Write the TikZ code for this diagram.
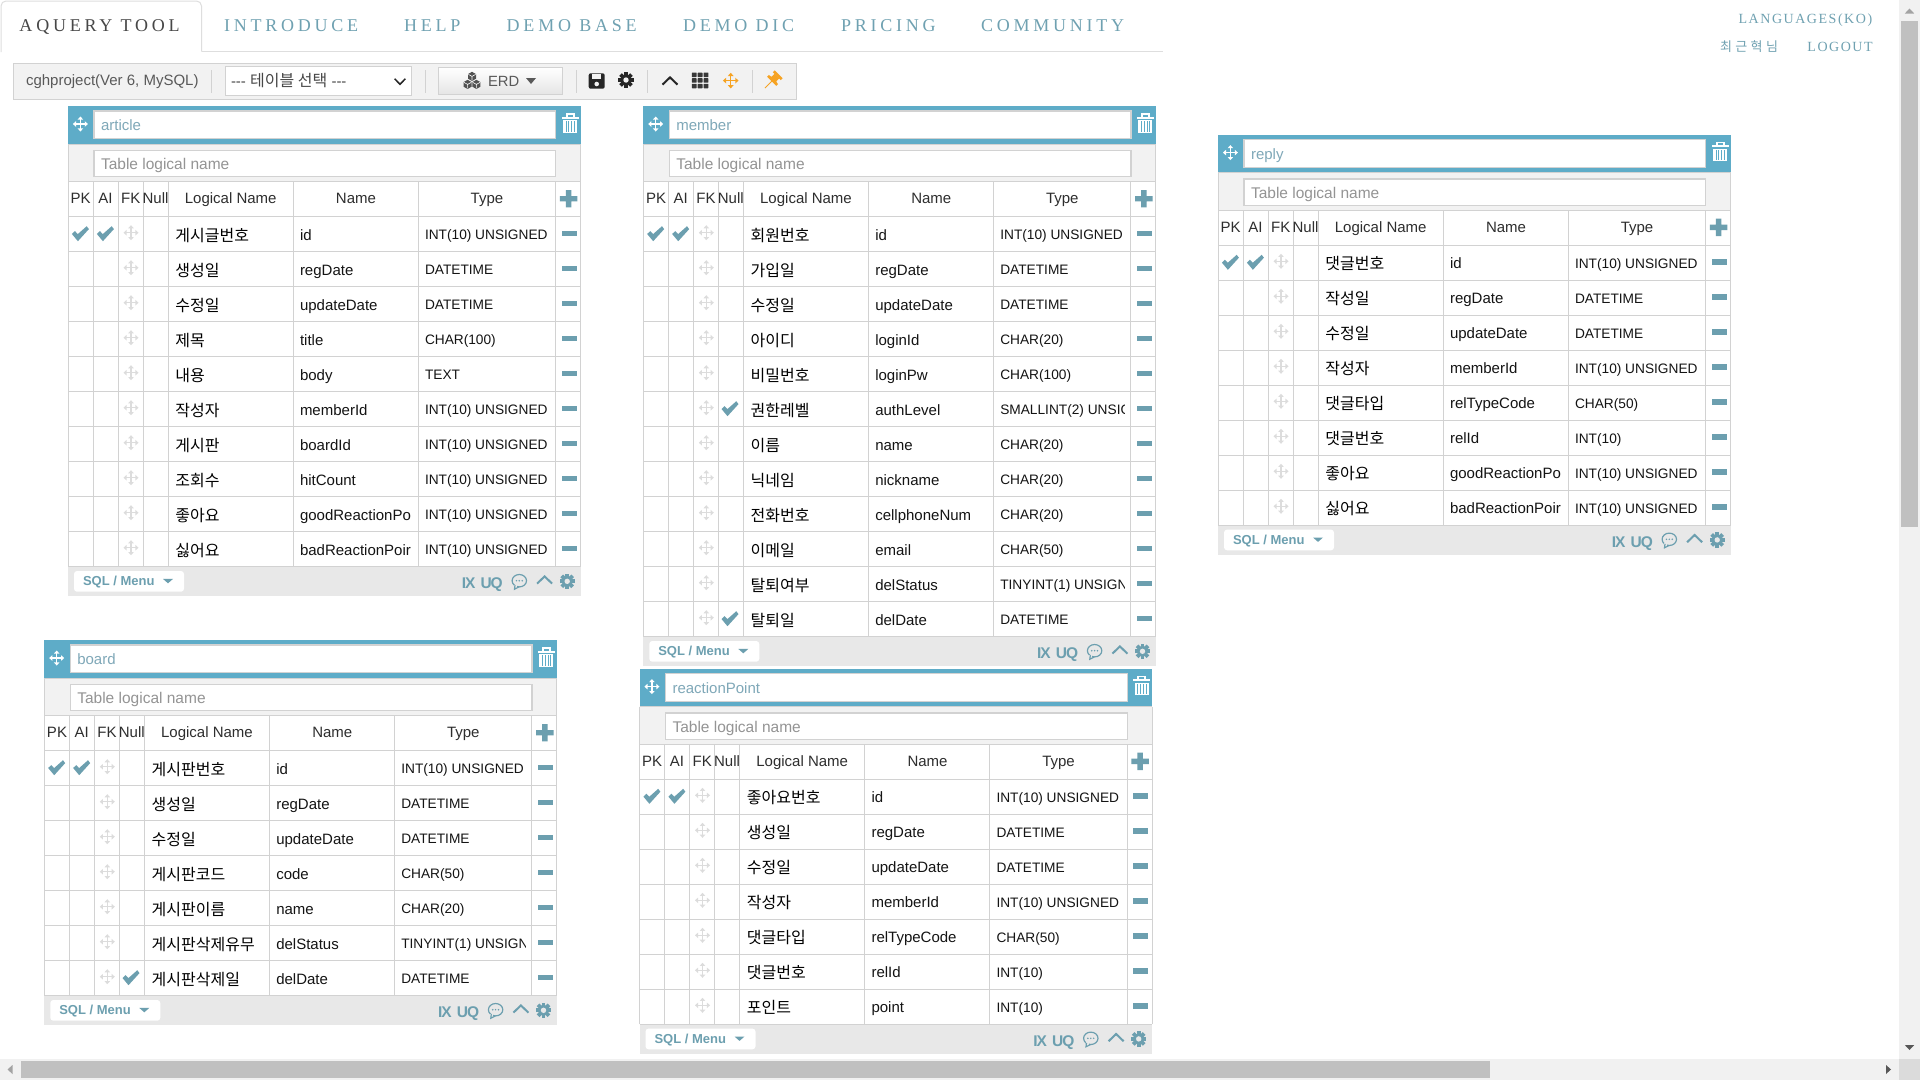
\documentclass[tikz,border=0pt]{standalone}
\usepackage{fontspec}
\setmainfont{Liberation Sans}
\newfontfamily\krf{Noto Sans CJK KR}
\newfontfamily\navf[LetterSpace=21]{Liberation Serif}
\newfontfamily\toprf[LetterSpace=11]{Liberation Serif}
\newfontfamily\krsp[LetterSpace=26]{Noto Sans CJK KR}
\newfontfamily\tagf[LetterSpace=-7]{Liberation Sans}
\definecolor{hdrblue}{HTML}{5EACC8}
\definecolor{teal}{HTML}{6C9FAF}
\definecolor{navc}{HTML}{6FA1B1}
\definecolor{titlec}{HTML}{7FA8B8}
\definecolor{gridc}{HTML}{D2D2D2}
\definecolor{moveg}{HTML}{DCDCDC}
\definecolor{footc}{HTML}{E8E8E8}
\definecolor{toolc}{HTML}{F2F2F2}
\definecolor{orng}{HTML}{F6A323}
\definecolor{thumbc}{HTML}{C0C0C0}
\definecolor{trackc}{HTML}{F1F1F1}
\newcommand\fs[1]{\fontsize{#1}{#1}\selectfont}
\newcounter{nn}
\newcount\rowno
\tikzset{
  txt/.style={inner sep=0pt,outer sep=0pt,anchor=base west},
  ctxt/.style={inner sep=0pt,outer sep=0pt,anchor=base},
  gridline/.style={draw=gridc,line width=1pt},
  inputbox/.style={fill=white,draw=gridc,line width=1.3pt},
  sepline/.style={draw=gridc,line width=1pt},
}
\newcommand\tx[3][]{\stepcounter{nn}\node[txt,#1] (n\thenn) at (#2) {#3};}
\newcommand\mv[3]{% centre, half-size, colour
  \begin{scope}[shift={(#1)},scale=#2/7.5]
    \draw[#3,line width=1.5pt] (-5,0)--(5,0) (0,-5)--(0,5);
    \fill[#3] (-7.5,0)--(-4.4,-2.8)--(-4.4,2.8)--cycle (7.5,0)--(4.4,-2.8)--(4.4,2.8)--cycle
      (0,-7.5)--(-2.8,-4.4)--(2.8,-4.4)--cycle (0,7.5)--(-2.8,4.4)--(2.8,4.4)--cycle;
  \end{scope}}
\newcommand\chk[1]{\fill[teal,shift={(#1)}] (-8.5,0.3)--(-5.5,-2.6)--(-2.6,0.4)--(6.3,-7.5)--(8.5,-4.6)--(-2.5,7.5)--cycle;}
\newcommand\gearic[3]{% centre, colour, hole colour
  \begin{scope}[shift={(#1)}]
    \fill[#2] (0,0) circle (5.6);
    \foreach \a in {0,45,...,315}{\fill[#2,rotate=\a] (-1.9,-7.7) rectangle (1.9,0);}
    \fill[#3] (0,0) circle (2.7);
  \end{scope}}
\newcommand\chev[2]{\draw[#2,line width=2pt,shift={(#1)}] (-7.5,3.6)--(0,-3.6)--(7.5,3.6);}
\newcommand\trash{%
  \fill[white] (497.5,7) rectangle (506.5,11);
  \fill[hdrblue] (499.5,8.6) rectangle (504.5,11);
  \fill[white] (493.5,10.5) rectangle (510.5,12.6);
  \fill[white] (495,14) rectangle (509,26.8);
  \foreach \q in {497.6,500.4,503.2,506.0}{\fill[hdrblue] (\q,15.2) rectangle (\q+1,25.6);}
}
\newcommand\tbl[5]{%
  \begin{scope}[shift={(#1,#2)}]
    \global\rowno=0
    \pgfmathsetmacro\bot{110.7+35*#4}
    \fill[hdrblue] (0,0) rectangle (512.5,38);
    \mv{12.4,18}{7.5}{white}
    \filldraw[inputbox] (26,5) rectangle (487.7,32.7);
    \tx[text=titlec,font=\fs{15}]{33,24.9}{#3}
    \trash
    \fill[toolc] (0,38) rectangle (512.5,75.7);
    \filldraw[inputbox] (26,44.3) rectangle (487.7,70.7);
    \tx[text=black!42,font=\fs{15.5}]{33,63.5}{Table logical name}
    \fill[footc] (0,\bot) rectangle (512.5,\bot+29.7);
    \draw[gridline] (0,38)--(0,\bot) (512.5,38)--(512.5,\bot);
    \draw[gridline] (0,38)--(512.5,38) (0,75.7)--(512.5,75.7) (0,110.7)--(512.5,110.7);
    \foreach \cx in {25,50,75,100,225,350,487.5}{\draw[gridline] (\cx,75.7)--(\cx,\bot);}
    \foreach \hh/\hx in {PK/12.7,AI/37.5,FK/62.7,Null/87.5,Logical Name/162.7,Name/288,Type/419}{
      \tx[ctxt,text=black!82,font=\fs{15}]{\hx,97.9}{\hh}}
    \fill[teal] (491.8,90) rectangle (509.4,95.4) (497.9,84) rectangle (503.3,101.4);
    #5
    \begin{scope}[shift={(0,\bot)}]
      \fill[white,rounded corners=3pt] (6,4.3) rectangle (116,25);
      \tx[text=teal,font=\fs{13}\bfseries]{15,19.2}{SQL / Menu}
      \fill[teal] (95,12.2)--(105,12.2)--(100,16.6)--cycle;
      \tx[ctxt,text=teal,font=\fs{15.5}\tagf\bfseries]{400.7,21.8}{IX}
      \tx[ctxt,text=teal,font=\fs{15.5}\tagf\bfseries]{423.7,21.8}{UQ}
      \draw[teal,line width=1.2pt] (451.3,14) ellipse (7.2 and 6.2);
      \fill[footc] (446,18) rectangle (449,21);
      \draw[teal,line width=1.2pt] (447,18.5)--(446.5,22.5)--(451,20.2);
      \fill[teal] (448.4,14) circle (0.85) (451.3,14) circle (0.85) (454.2,14) circle (0.85);
      \chev{476.6,13.3}{teal}
      \gearic{499.2,14.6}{teal}{footc}
    \end{scope}
  \end{scope}}
\newcommand\rw[4][]{%
  \begin{scope}[shift={(0,{110.7+35*\the\rowno})}]
    \draw[gridline] (0,35)--(512.5,35);
    \ifx p#1\relax \chk{12.4,17} \chk{37.4,17} \fi
    \ifx n#1\relax \chk{86.7,17} \fi
    \mv{63,16}{7.5}{moveg}
    \tx[text=black,font=\fs{16}\krf]{107.4,24.4}{#2}
    \begin{scope}
      \clip (226,0) rectangle (344.5,35);
      \tx[text=black!92,font=\fs{15}]{232,23.3}{#3}
    \end{scope}
    \begin{scope}
      \clip (351,0) rectangle (480.8,35);
      \tx[text=black!92,font=\fs{13.7}]{357,22.7}{#4}
    \end{scope}
    \fill[teal] (493.7,13.8) rectangle (508.7,19.4);
  \end{scope}
  \global\advance\rowno by 1 }
\begin{document}
\begin{tikzpicture}[x=1pt,y=-1pt]
\useasboundingbox (0,0) rectangle (1920,1080);
\fill[white] (0,0) rectangle (1920,1080);
% nav
\draw[draw=black!13,line width=1pt,rounded corners=5pt] (1,52)--(1,1)--(201.5,1)--(201.5,51.7);
\draw[draw=black!13,line width=1pt] (201.5,51.7)--(1163,51.7);
\tx[text=black!72,font=\fs{18}\navf]{19.5,31.5}{AQUERY TOOL}
\tx[text=navc,font=\fs{18}\navf]{224,31.5}{INTRODUCE}
\tx[text=navc,font=\fs{18}\navf]{404,31.5}{HELP}
\tx[text=navc,font=\fs{18}\navf]{506.7,31.5}{DEMO BASE}
\tx[text=navc,font=\fs{18}\navf]{683,31.5}{DEMO DIC}
\tx[text=navc,font=\fs{18}\navf]{841,31.5}{PRICING}
\tx[text=navc,font=\fs{18}\navf]{981,31.5}{COMMUNITY}
\tx[text=navc,font=\fs{14}\toprf]{1738.6,23}{LANGUAGES(KO)}
\tx[text=navc,font=\fs{13}\krsp]{1720,51}{최근혁님}
\tx[text=navc,font=\fs{14}\toprf]{1807.4,51}{LOGOUT}
% toolbar
\filldraw[fill=toolc,draw=gridc,line width=1.2pt] (13.4,63.3) rectangle (796.7,99.3);
\tx[text=black!65,font=\fs{15}]{26,85}{cghproject(Ver 6, MySQL)}
\foreach \sx in {211,425.6,576.6,647.3,752.7}{\draw[sepline] (\sx,70)--(\sx,93);}
\filldraw[inputbox] (225.4,66.3) rectangle (411.8,95.7);
\tx[text=black!72,font=\fs{15}]{231,86}{-{}-{}- {\krf\fs{16}테이블 선택} -{}-{}-}
\draw[black!85,line width=1.5pt] (394.6,78.7)--(400,84.3)--(405.4,78.7);
\shade[top color=white,bottom color=black!10] (438.6,67.3) rectangle (562.6,94);
\draw[gridc,line width=1pt] (438.6,67.3) rectangle (562.6,94);
\tx[text=black!65,font=\fs{14.8}]{488,86}{ERD}
\foreach \ax/\ay in {472/76.4,467.6/84.4,476.4/84.4}{
  \fill[black!68,shift={(\ax,\ay)}] (0,-4.6)--(4,-2.3)--(4,2.3)--(0,4.6)--(-4,2.3)--(-4,-2.3)--cycle;
  \draw[white,line width=0.6pt,shift={(\ax,\ay)}] (-3.6,-2)--(0,0)--(3.6,-2) (0,0)--(0,4);}
\fill[black!65] (526,78)--(536,78)--(531,84)--cycle;
% save
\fill[black!85,rounded corners=2pt] (588.7,73.3) rectangle (604.7,88.7);
\fill[toolc] (592,73.8) rectangle (600.5,78.6);
\fill[toolc] (596.7,84) circle (2.3);
\gearic{626,80}{black!85}{toolc}
\chev{670,81}{black!85}
\foreach \gx in {0,1,2}{\foreach \gy in {0,1,2}{
  \fill[black!78,rounded corners=0.5pt] (691.8+\gx*5.9,72.6+\gy*5.6) rectangle +(4.8,4.5);}}
\mv{730.7,80.6}{7.8}{orng}
\begin{scope}[shift={(774.5,78.5)},rotate=45]
  \draw[orng,line width=1pt] (-13.5,0)--(-3,0);
  \fill[orng] (-4,-6.5)--(-1.5,-6.5)--(-1,-3.4)--(3.5,-3.2)--(3.5,3.2)--(-1,3.4)--(-1.5,6.5)--(-4,6.5)--cycle;
  \fill[orng] (3.2,-5.5) rectangle (6,5.5);
\end{scope}
% tables
\tbl{68}{106}{article}{10}{
 \rw[p]{게시글번호}{id}{INT(10) UNSIGNED}
 \rw{생성일}{regDate}{DATETIME}
 \rw{수정일}{updateDate}{DATETIME}
 \rw{제목}{title}{CHAR(100)}
 \rw{내용}{body}{TEXT}
 \rw{작성자}{memberId}{INT(10) UNSIGNED}
 \rw{게시판}{boardId}{INT(10) UNSIGNED}
 \rw{조회수}{hitCount}{INT(10) UNSIGNED}
 \rw{좋아요}{goodReactionPo}{INT(10) UNSIGNED}
 \rw{싫어요}{badReactionPoir}{INT(10) UNSIGNED}
}
\tbl{643.3}{106}{member}{12}{
 \rw[p]{회원번호}{id}{INT(10) UNSIGNED}
 \rw{가입일}{regDate}{DATETIME}
 \rw{수정일}{updateDate}{DATETIME}
 \rw{아이디}{loginId}{CHAR(20)}
 \rw{비밀번호}{loginPw}{CHAR(100)}
 \rw[n]{권한레벨}{authLevel}{SMALLINT(2) UNSIG}
 \rw{이름}{name}{CHAR(20)}
 \rw{닉네임}{nickname}{CHAR(20)}
 \rw{전화번호}{cellphoneNum}{CHAR(20)}
 \rw{이메일}{email}{CHAR(50)}
 \rw{탈퇴여부}{delStatus}{TINYINT(1) UNSIGN}
 \rw[n]{탈퇴일}{delDate}{DATETIME}
}
\tbl{1218}{134.6}{reply}{8}{
 \rw[p]{댓글번호}{id}{INT(10) UNSIGNED}
 \rw{작성일}{regDate}{DATETIME}
 \rw{수정일}{updateDate}{DATETIME}
 \rw{작성자}{memberId}{INT(10) UNSIGNED}
 \rw{댓글타입}{relTypeCode}{CHAR(50)}
 \rw{댓글번호}{relId}{INT(10)}
 \rw{좋아요}{goodReactionPo}{INT(10) UNSIGNED}
 \rw{싫어요}{badReactionPoir}{INT(10) UNSIGNED}
}
\tbl{44.3}{640}{board}{7}{
 \rw[p]{게시판번호}{id}{INT(10) UNSIGNED}
 \rw{생성일}{regDate}{DATETIME}
 \rw{수정일}{updateDate}{DATETIME}
 \rw{게시판코드}{code}{CHAR(50)}
 \rw{게시판이름}{name}{CHAR(20)}
 \rw{게시판삭제유무}{delStatus}{TINYINT(1) UNSIGN}
 \rw[n]{게시판삭제일}{delDate}{DATETIME}
}
\tbl{639.5}{668.6}{reactionPoint}{7}{
 \rw[p]{좋아요번호}{id}{INT(10) UNSIGNED}
 \rw{생성일}{regDate}{DATETIME}
 \rw{수정일}{updateDate}{DATETIME}
 \rw{작성자}{memberId}{INT(10) UNSIGNED}
 \rw{댓글타입}{relTypeCode}{CHAR(50)}
 \rw{댓글번호}{relId}{INT(10)}
 \rw{포인트}{point}{INT(10)}
}
% scrollbars
\fill[trackc] (1899,0) rectangle (1920,1080);
\fill[trackc] (0,1059) rectangle (1920,1080);
\fill[black!14] (1899,1059) rectangle (1920,1080);
\fill[thumbc] (1901,20.7) rectangle (1918,526.7);
\fill[thumbc] (21,1061) rectangle (1490,1078);
\fill[black!36] (1904.8,13.5)--(1914.2,13.5)--(1909.5,8.5)--cycle;
\fill[black!66] (1904.8,1045)--(1914.2,1045)--(1909.5,1050)--cycle;
\fill[black!36] (12.5,1065)--(12.5,1074)--(7.5,1069.5)--cycle;
\fill[black!66] (1886,1065)--(1886,1074)--(1891,1069.5)--cycle;
\end{tikzpicture}
\end{document}
